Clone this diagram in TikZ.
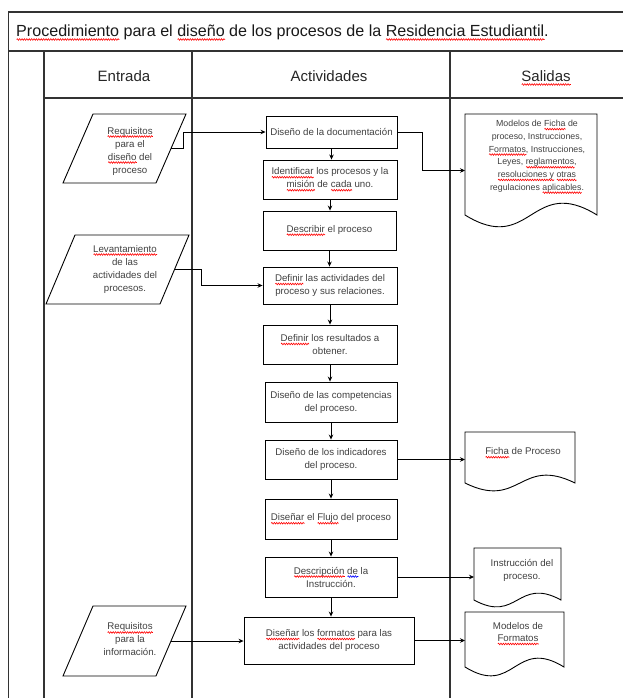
\documentclass[tikz,border=0pt]{standalone}
\usepackage{fontspec}
\setmainfont{Liberation Sans}
\usetikzlibrary{arrows.meta,calc,decorations.pathmorphing}
\newsavebox\wvbox
\newcommand\wv[2][red]{\sbox\wvbox{#2}\rlap{\tikz[baseline=0pt]\draw[#1, line width=0.6pt, decorate, decoration={snake,amplitude=0.8pt,segment length=2.4pt}] (0pt,-2.5pt) -- (\the\wd\wvbox,-2.5pt);}\usebox\wvbox}
\newcommand\bxfont{\fontsize{9.7}{13}\selectfont}
\newcommand\docshape[2]{\draw[ln] (#1.north west) -- (#1.north east) -- ([yshift=#2pt]#1.south east) .. controls ([yshift=4.4*#2pt]#1.south) and ([yshift=-2.4*#2pt]#1.south) .. ([yshift=#2pt]#1.south west) -- cycle;}
\newcommand\slantbox[2]{\draw[ln] ([xshift=#2pt]#1.north west) -- ([xshift=#2pt]#1.north east) -- ([xshift=-#2pt]#1.south east) -- ([xshift=-#2pt]#1.south west) -- cycle;}
\tikzset{
  frame/.style={line width=1.1pt, draw=black!80},
  ln/.style={line width=0.9pt, draw=black},
  box/.style={draw, line width=0.9pt, align=center, font=\bxfont, text=black!75, inner sep=1pt},
  shp/.style={draw=none, inner sep=0pt, outer sep=0pt},
  txt/.style={align=center, font=\bxfont, text=black!75, inner sep=0pt},
  arr/.style={line width=0.8pt, -{Stealth[length=5pt,width=4.5pt]}},
  head/.style={font=\fontsize{15}{18}\selectfont, text=black!85, anchor=base, inner sep=0pt},
}
\begin{document}
\begin{tikzpicture}[x=1pt,y=-1pt]
\useasboundingbox (0,0) rectangle (623,698);
% frame
\draw[frame] (8,12) -- (623,12);
\draw[frame] (8,51) -- (623,51);
\draw[frame] (44,98) -- (623,98);
\draw[frame] (8.5,12) -- (8.5,698);
\draw[frame] (44,51) -- (44,698);
\draw[frame] (192,51) -- (192,698);
\draw[frame] (450,51) -- (450,698);
% title and headers
\node[anchor=base west, inner sep=0pt, font=\fontsize{16.1}{18}\selectfont, text=black!90] (title) at (16,37)
  {\wv{Procedimiento} para el \wv{diseño} de los procesos de la \wv{Residencia Estudiantil}.};
\node[head] (h1) at (124,82) {Entrada};
\node[head] (h2) at (329,82) {Actividades};
\node[head] (h3) at (546,82) {\wv{Salidas}};
% inputs
\node[shp, minimum width=93pt, minimum height=69pt] (p1) at (124.5,148.5) {};
\slantbox{p1}{15}
\node[txt] (p1t) at (130,151) {\wv{Requisitos}\\para el\\\wv{diseño} del\\proceso};
\node[shp, minimum width=114pt, minimum height=69pt] (p2) at (117.5,269.5) {};
\slantbox{p2}{14.5}
\node[txt] (p2t) at (125,269) {\wv{Levantamiento}\\de las\\actividades del\\procesos.};
\node[shp, minimum width=93pt, minimum height=70pt] (p3) at (124.5,641) {};
\slantbox{p3}{15}
\node[txt] (p3t) at (130,639.5) {\wv{Requisitos}\\para la\\información.};
% activities
\node[box, minimum width=131pt, minimum height=32pt] (b1) at (331.5,132) {Diseño de la documentación};
\node[box, minimum width=134pt, minimum height=39pt] (b2) at (330,179.5) {\wv{Identificar} los procesos y la\\\wv{misión} de \wv{cada} uno.};
\node[box, minimum width=133pt, minimum height=39pt] (b3) at (329.5,230.5) {\wv{Describir} el proceso};
\node[box, minimum width=134pt, minimum height=37pt] (b4) at (330,285.5) {\wv{Definir} las actividades del\\proceso y sus relaciones.};
\node[box, minimum width=134pt, minimum height=39pt] (b5) at (330,344.5) {\wv{Definir} los resultados a\\obtener.};
\node[box, minimum width=132pt, minimum height=40pt] (b6) at (331,402) {Diseño de las competencias\\del proceso.};
\node[box, minimum width=132pt, minimum height=39pt] (b7) at (331,459.5) {Diseño de los indicadores\\del proceso.};
\node[box, minimum width=132pt, minimum height=40pt] (b8) at (331,519) {\wv{Diseñar} el \wv{Flujo} del proceso};
\node[box, minimum width=132pt, minimum height=40pt] (b9) at (331,577) {\wv{Descripción} \wv[blue]{de} la\\Instrucción.};
\node[box, minimum width=170pt, minimum height=47pt] (b10) at (329,640.5) {\wv{Diseñar} los \wv{formatos} para las\\actividades del proceso};
% outputs
\node[shp, minimum width=132pt, minimum height=113pt] (d1) at (531,170.5) {};
\docshape{d1}{12}
\node[txt, font=\fontsize{8.8}{12.7}\selectfont] (d1t) at (537,157) {Modelos de \wv{Ficha} de\\proceso, Instrucciones,\\\wv{Formatos}, Instrucciones,\\Leyes, \wv{reglamentos},\\\wv{resoluciones y} \wv{otras}\\regulaciones \wv{aplicables}.};
\node[shp, minimum width=110pt, minimum height=59pt] (d2) at (520,461.5) {};
\docshape{d2}{8}
\node[txt] (d2t) at (523,453) {\wv{Ficha} de Proceso};
\node[shp, minimum width=87pt, minimum height=59pt] (d3) at (517.5,577.5) {};
\docshape{d3}{7}
\node[txt] (d3t) at (522,570) {Instrucción del\\proceso.};
\node[shp, minimum width=99pt, minimum height=64pt] (d4) at (514.5,644) {};
\docshape{d4}{9}
\node[txt, font=\fontsize{9.7}{11.5}\selectfont] (d4t) at (518,634) {Modelos de\\\wv{Formatos}};
% connectors
\draw[arr] (p1.east) -- ++(12pt,0) |- (b1.west);
\draw[arr] (p2.east) -- ++(27pt,0) |- (b4.west);
\draw[arr] (p3.east) -- (p3.east -| b10.west);
\foreach \a/\b in {b1/b2,b2/b3,b3/b4,b4/b5,b5/b6,b6/b7,b7/b8,b8/b9,b9/b10}
  \draw[arr] (\a.south) -- (\a.south |- \b.north);
\draw[arr] (b1.east) -- ++(25pt,0) |- (d1.west);
\draw[arr] (b7.east) -- (b7.east -| d2.west);
\draw[arr] (b9.east) -- (b9.east -| d3.west);
\draw[arr] (b10.east) -- (b10.east -| d4.west);
\end{tikzpicture}
\end{document}
